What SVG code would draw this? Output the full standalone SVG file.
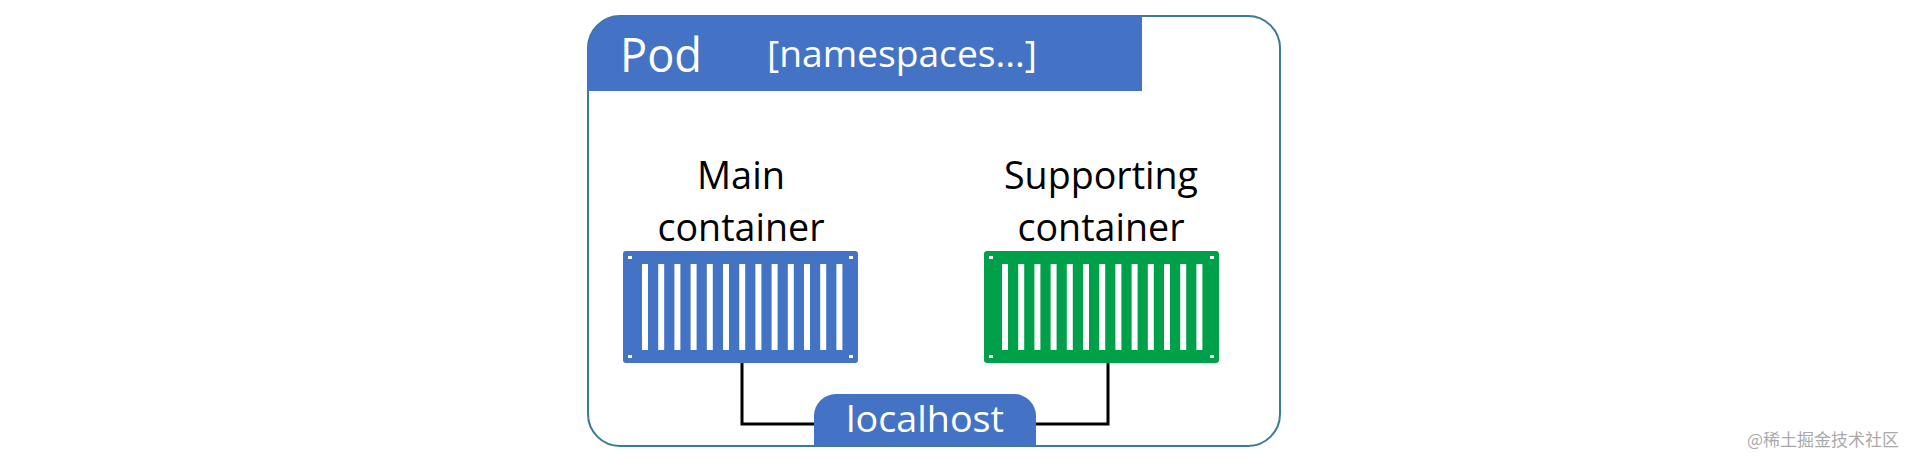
<svg xmlns="http://www.w3.org/2000/svg" width="1906" height="459" viewBox="0 0 1906 459">
<style>
.t{font-family:"Open Sans","Liberation Sans",sans-serif;}
.w{fill:#fff}
.k{fill:#000}
.ln{fill:none;stroke:#000;stroke-width:3}
</style>
<defs>
<g id="stripes">
<rect x="0" y="0" width="6" height="86"/><rect x="16.2" y="0" width="6" height="86"/><rect x="32.4" y="0" width="6" height="86"/><rect x="48.6" y="0" width="6" height="86"/><rect x="64.8" y="0" width="6" height="86"/><rect x="81" y="0" width="6" height="86"/><rect x="97.2" y="0" width="6" height="86"/><rect x="113.4" y="0" width="6" height="86"/><rect x="129.6" y="0" width="6" height="86"/><rect x="145.8" y="0" width="6" height="86"/><rect x="162" y="0" width="6" height="86"/><rect x="178.2" y="0" width="6" height="86"/><rect x="194.4" y="0" width="6" height="86"/>
</g>
<g id="notches" fill="#fff">
<rect x="5" y="5" width="4" height="3"/><rect x="226" y="5" width="4" height="3"/><rect x="5" y="104" width="4" height="3"/><rect x="226" y="104" width="4" height="3"/>
</g>
</defs>
<g id="pod">
<rect x="588" y="16" width="692" height="430" rx="32" fill="#fff" stroke="#3b7a92" stroke-width="2"/>
<path d="M588,91 V48 A32,32 0 0 1 620,16 H1142 V91 Z" fill="#4472c4"/>
<text x="620" y="72" class="t w" font-size="48" textLength="82" lengthAdjust="spacingAndGlyphs">Pod</text>
<text x="767" y="67" class="t w" font-size="36" textLength="270" lengthAdjust="spacingAndGlyphs">[namespaces...]</text>
</g>
<g id="connectors">
<polyline class="ln" points="742,362 742,424 816,424"/>
<polyline class="ln" points="1108,362 1108,424 1034,424"/>
</g>
<g id="main">
<text x="741" y="189" class="t k" font-size="38" text-anchor="middle" textLength="88" lengthAdjust="spacingAndGlyphs">Main</text>
<text x="741" y="241" class="t k" font-size="38" text-anchor="middle" textLength="167" lengthAdjust="spacingAndGlyphs">container</text>
<rect x="623" y="251" width="235" height="112" rx="3" fill="#4472c4"/>
<use href="#stripes" x="642" y="264" fill="#fff"/>
<use href="#notches" x="623" y="251"/>
</g>
<g id="supporting">
<text x="1101" y="189" class="t k" font-size="38" text-anchor="middle" textLength="194" lengthAdjust="spacingAndGlyphs">Supporting</text>
<text x="1101" y="241" class="t k" font-size="38" text-anchor="middle" textLength="167" lengthAdjust="spacingAndGlyphs">container</text>
<rect x="984" y="251" width="235" height="112" rx="3" fill="#00a04a"/>
<use href="#stripes" x="1002" y="264" fill="#fff"/>
<use href="#notches" x="984" y="251"/>
</g>
<g id="localhost">
<path d="M814,446 V416 A22,22 0 0 1 836,394 H1014 A22,22 0 0 1 1036,416 V446 Z" fill="#4472c4"/>
<text x="925" y="432" class="t w" font-size="36" text-anchor="middle" textLength="158" lengthAdjust="spacingAndGlyphs">localhost</text>
</g>
<text x="1899" y="446" font-family="Noto Sans CJK SC, sans-serif" font-size="17" fill="#aaa" text-anchor="end">@稀土掘金技术社区</text>
</svg>
